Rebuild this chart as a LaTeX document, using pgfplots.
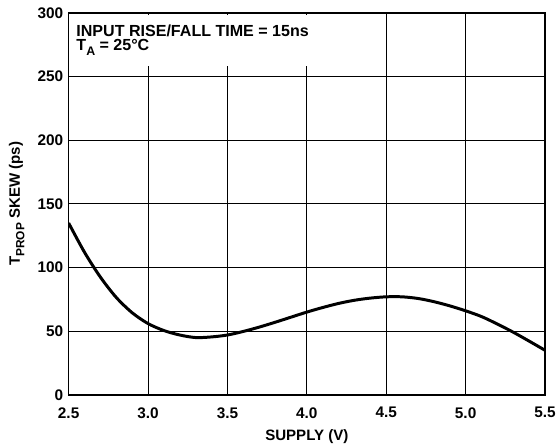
\documentclass[border=0pt]{standalone}
\usepackage{pgfplots}
\pgfplotsset{compat=1.18}
\usepackage{fontspec}
\setmainfont{Liberation Sans}

\pgfplotstableread{
x     y
2.5   135
2.6   112
2.7   92.5
2.8   76.5
2.9   64.5
3.0   56
3.1   50.5
3.2   47
3.3   45
3.4   45.5
3.5   47
3.6   49.8
3.7   53.2
3.8   57
3.9   61
4.0   65
4.1   68.6
4.2   71.8
4.3   74.3
4.4   76
4.5   77
4.6   77
4.7   75.7
4.8   73.2
4.9   69.9
5.0   66
5.1   61.5
5.2   55.6
5.3   49.2
5.4   42.2
5.5   35
}\skewdata

\begin{document}
\begin{tikzpicture}
\begin{axis}[
    scale only axis,
    width=479bp, height=384bp,
    xmin=2.5, xmax=5.5, ymin=0, ymax=300,
    xtick={2.5,3.0,...,5.5},
    ytick={0,50,...,300},
    grid=major,
    grid style={black, line width=1bp},
    axis line style={black, line width=1.5bp},
    major tick length=2bp,
    tick style={black, line width=1bp},
    /pgf/number format/assume math mode=true,
    xticklabel style={/pgf/number format/fixed, /pgf/number format/fixed zerofill, /pgf/number format/precision=1, yshift=-9bp},
    yticklabel style={xshift=-2bp},
    ticklabel style={font=\bfseries\fontsize{15.5}{15.5}\selectfont},
    label style={font=\bfseries\fontsize{15.2}{15.2}\selectfont},
    xlabel={SUPPLY (V)},
    xlabel style={at={(axis description cs:0.5,0)}, anchor=base, yshift=-46bp},
    ylabel={T\raisebox{-0.3em}{\fontsize{12}{12}\selectfont PROP} SKEW (ps)},
    ylabel style={at={(axis description cs:0,0.5)}, anchor=base, yshift=49bp},
]
\addplot[black, line width=3bp, smooth] table[x=x, y=y] {\skewdata};
\fill[white] (axis cs:2.505,258.6) rectangle (axis cs:4.2,298.6);
\node[anchor=north west, inner sep=0, align=left, font=\bfseries\fontsize{16.2}{14.3}\selectfont]
    at (axis cs:2.548,290.6) {INPUT RISE/FALL TIME = 15ns\\T\raisebox{-0.3em}{\fontsize{12.5}{12.5}\selectfont A} = 25°C};
\end{axis}
\path ([shift={(-69bp,-53bp)}]current axis.south west) rectangle ([shift={(11bp,13bp)}]current axis.north east);
\end{tikzpicture}
\end{document}
